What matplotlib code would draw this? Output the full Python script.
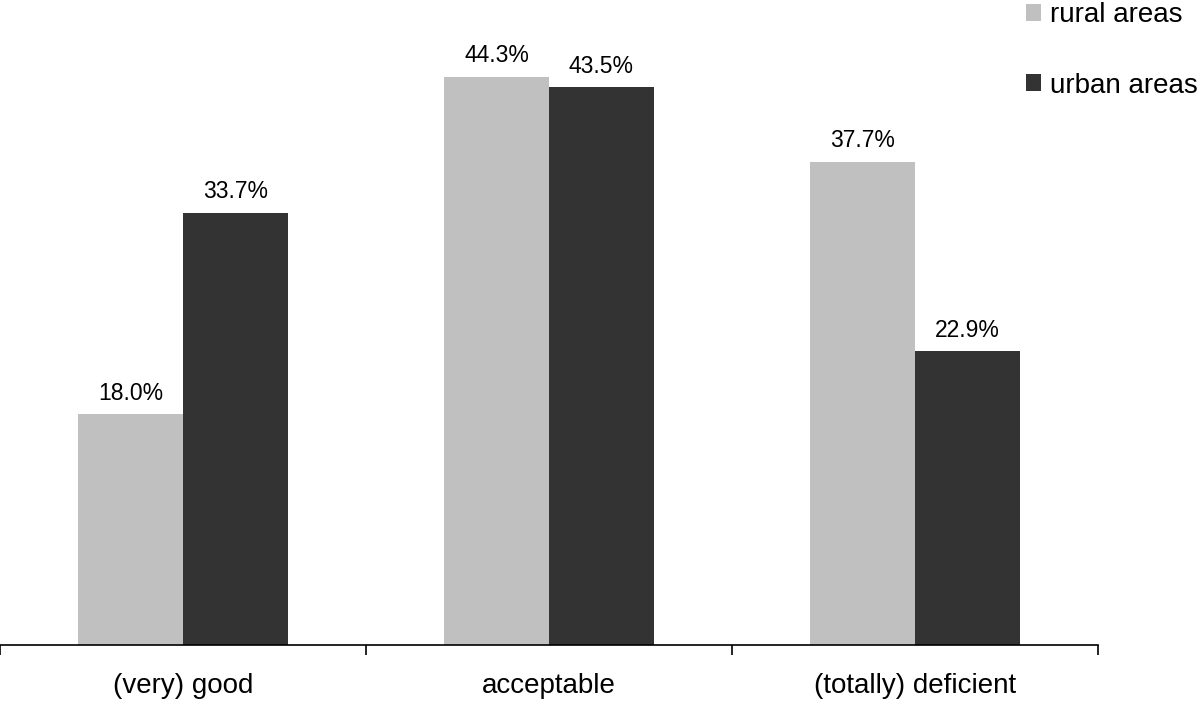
import numpy as np
import matplotlib.pyplot as plt

plt.rcParams['font.family'] = ['Liberation Sans', 'DejaVu Sans']

categories = ['(very) good', 'acceptable', '(totally) deficient']
rural = [18.0, 44.3, 37.7]
urban = [33.7, 43.5, 22.9]

fig = plt.figure(figsize=(12, 7.01), dpi=100)
ax = fig.add_axes([0.0, 56 / 701, 1098 / 1200, 641 / 701])

x = np.arange(len(categories))
w = 0.286
b1 = ax.bar(x - w / 2, rural, w, color='#c0c0c0', label='rural areas')
b2 = ax.bar(x + w / 2, urban, w, color='#333333', label='urban areas')

for bars, vals in [(b1, rural), (b2, urban)]:
    for bar, v in zip(bars, vals):
        ax.annotate('%.1f%%' % v, (bar.get_x() + bar.get_width() / 2, v),
                    xytext=(0, 7), textcoords='offset points',
                    ha='center', va='bottom', fontsize=16.5)

ax.set_xlim(-0.5, 2.5)
ax.set_ylim(0, 50)
for s in ['top', 'right', 'left']:
    ax.spines[s].set_visible(False)
ax.spines['bottom'].set_linewidth(1.2)
ax.set_yticks([])
ax.set_xticks([-0.5, 0.5, 1.5, 2.5])
ax.set_xticklabels([])
ax.tick_params(axis='x', which='major', length=7, width=1.2, direction='out')
ax.set_xticks(x, minor=True)
ax.set_xticklabels(categories, minor=True, fontsize=20)
ax.tick_params(axis='x', which='minor', length=0, pad=20)

fig.legend(loc='upper left', bbox_to_anchor=(1026 / 1200, 0.997), frameon=False,
           fontsize=20, handlelength=0.55, handleheight=0.55, handletextpad=0.3,
           labelspacing=1.6, borderpad=0, borderaxespad=0)

fig.savefig('out.png', dpi=100)
